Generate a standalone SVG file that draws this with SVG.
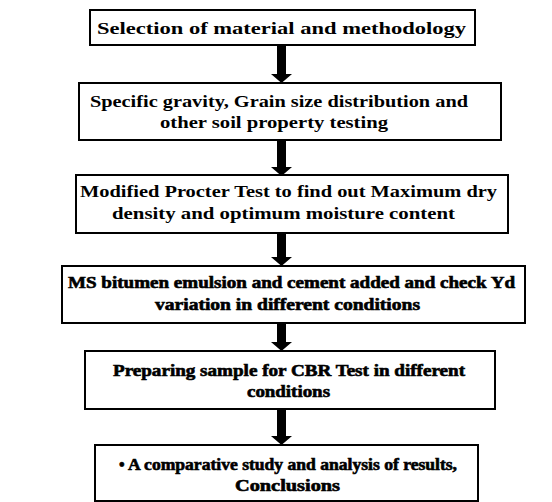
<svg xmlns="http://www.w3.org/2000/svg" width="552" height="502" viewBox="0 0 552 502">
<style>
.box{fill:#fff;stroke:#000;stroke-width:2}
text{font-family:'Liberation Serif','DejaVu Serif','Times New Roman',serif;font-weight:bold;font-size:16px;fill:#000}
.h{stroke:#000;stroke-width:0.6}
.arr{fill:#000}
</style>
<rect width="552" height="502" fill="#fff"/>
<g id="connectors">
<polygon class="arr" points="277,45 286,45 286,74 292,74 281.5,83 271,74 277,74"/>
<polygon class="arr" points="277,140 286,140 286,167 292,167 281.5,176 271,167 277,167"/>
<polygon class="arr" points="277,233 286,233 286,257 292,257 281.5,266 271,257 277,257"/>
<polygon class="arr" points="277,312 286,312 286,342 292,342 281.5,351 271,342 277,342"/>
<polygon class="arr" points="277,409 286,409 286,436 292,436 281.5,445 271,436 277,436"/>
</g>
<g id="n1">
<rect class="box" x="90" y="10" width="385" height="35"/>
<text x="97" y="34" textLength="369" lengthAdjust="spacingAndGlyphs">Selection of material and methodology</text>
</g>
<g id="n2">
<rect class="box" x="79" y="83" width="422" height="57"/>
<text x="90" y="107" textLength="378" lengthAdjust="spacingAndGlyphs">Specific gravity, Grain size distribution and</text>
<text x="160" y="128" textLength="228" lengthAdjust="spacingAndGlyphs">other soil property testing</text>
</g>
<g id="n3">
<rect class="box" x="76" y="175" width="432" height="58"/>
<text x="80" y="197" textLength="417" lengthAdjust="spacingAndGlyphs">Modified Procter Test to find out Maximum dry</text>
<text x="112" y="219" textLength="343" lengthAdjust="spacingAndGlyphs">density and optimum moisture content</text>
</g>
<g id="n4">
<rect class="box" x="62" y="266" width="463" height="57"/>
<text class="h" x="68" y="288" textLength="447" lengthAdjust="spacingAndGlyphs">MS bitumen emulsion and cement added and check Yd</text>
<text class="h" x="155" y="310" textLength="265" lengthAdjust="spacingAndGlyphs">variation in different conditions</text>
</g>
<g id="n5">
<rect class="box" x="85" y="351" width="410" height="58"/>
<text class="h" x="113" y="376" textLength="352" lengthAdjust="spacingAndGlyphs">Preparing sample for CBR Test in different</text>
<text class="h" x="247" y="397" textLength="83" lengthAdjust="spacingAndGlyphs">conditions</text>
</g>
<g id="n6">
<rect class="box" x="95" y="445" width="383" height="56"/>
<text class="h" x="119" y="470">•</text>
<text class="h" x="128" y="470" textLength="329" lengthAdjust="spacingAndGlyphs">A comparative study and analysis of results,</text>
<text class="h" x="235" y="491" textLength="105" lengthAdjust="spacingAndGlyphs">Conclusions</text>
</g>
</svg>
